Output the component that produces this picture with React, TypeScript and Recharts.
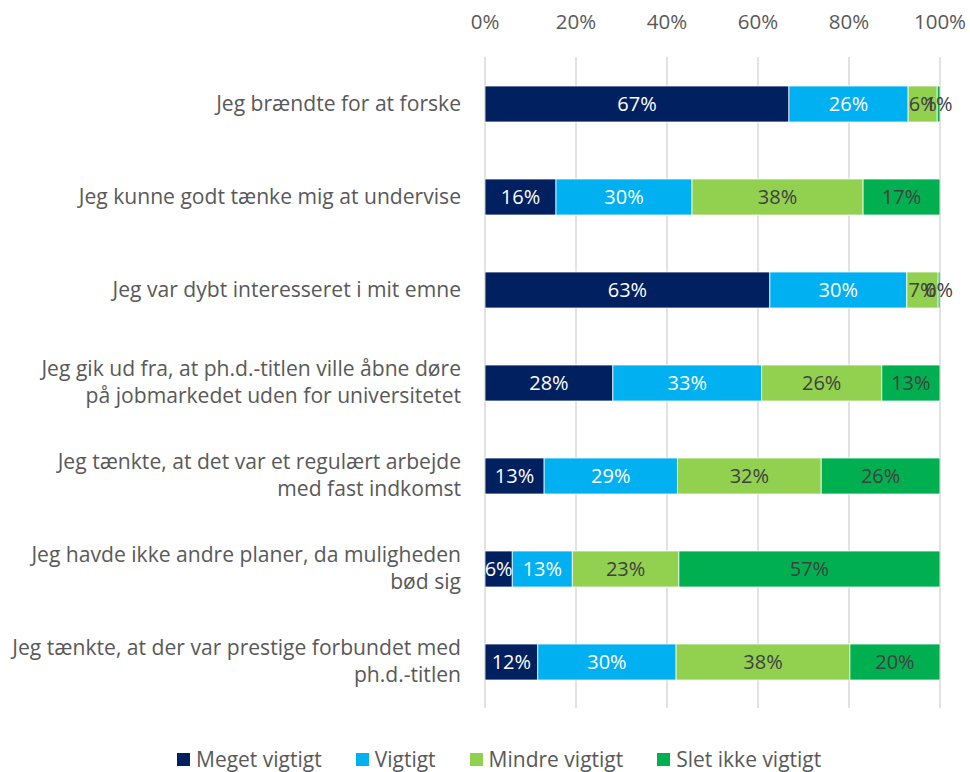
import React from 'react';
import { BarChart, Bar, XAxis, YAxis, CartesianGrid, LabelList, Legend } from 'recharts';

const categories: string[][] = [
  ['Jeg brændte for at forske'],
  ['Jeg kunne godt tænke mig at undervise'],
  ['Jeg var dybt interesseret i mit emne'],
  ['Jeg gik ud fra, at ph.d.-titlen ville åbne døre', 'på jobmarkedet uden for universitetet'],
  ['Jeg tænkte, at det var et regulært arbejde', 'med fast indkomst'],
  ['Jeg havde ikke andre planer, da muligheden', 'bød sig'],
  ['Jeg tænkte, at der var prestige forbundet med', 'ph.d.-titlen'],
];

const meget = [66.8, 15.6, 62.6, 28.1, 13.0, 6.0, 11.6];
const vigtigt = [26.2, 29.9, 30.1, 32.7, 29.3, 13.2, 30.4];
const mindre = [6.4, 37.6, 6.9, 26.4, 31.6, 23.4, 38.2];
const slet = [0.6, 16.9, 0.4, 12.8, 26.1, 57.4, 19.8];

const xTicks = [0, 20, 40, 60, 80, 100];

const seriesNames = ['Meget vigtigt', 'Vigtigt', 'Mindre vigtigt', 'Slet ikke vigtigt'];
const colors = ['#002060', '#00B0F0', '#92D050', '#00B050'];
const labelColors = ['#FFFFFF', '#FFFFFF', '#404040', '#404040'];

const data = categories.map((c, i) => ({
  name: c.join('\n'),
  meget: meget[i],
  vigtigt: vigtigt[i],
  mindre: mindre[i],
  slet: slet[i],
}));

const keys = ['meget', 'vigtigt', 'mindre', 'slet'];

const FONT = '"Open Sans", Lato, sans-serif';

const CategoryTick = (props: any) => {
  const { x, y, payload } = props;
  const lines: string[] = String(payload.value).split('\n');
  const lh = 27;
  const startY = y - ((lines.length - 1) * lh) / 2;
  return (
    <text x={x - 16} y={startY} textAnchor="end" fill="#595959" fontSize={21.1} fontFamily={FONT}>
      {lines.map((l, i) => (
        <tspan key={i} x={x - 16} y={startY + i * lh} dy="0.35em">
          {l}
        </tspan>
      ))}
    </text>
  );
};

const LegendContent = () => (
  <div style={{ display: 'flex', justifyContent: 'flex-start', paddingLeft: 177, fontFamily: FONT, fontSize: 21, color: '#595959', lineHeight: '26px' }}>
    {seriesNames.map((n, i) => (
      <div key={n} style={{ display: 'flex', alignItems: 'center', marginRight: i < 3 ? 34 : 0 }}>
        <span style={{ width: 13, height: 13, background: colors[i], display: 'inline-block', marginRight: 6 }} />
        <span>{n}</span>
      </div>
    ))}
  </div>
);

export default function App() {
  return (
    <div style={{ position: 'absolute', left: 0, top: 0, background: '#fff' }}>
      <BarChart
        width={970}
        height={772}
        data={data}
        layout="vertical"
        margin={{ top: 27, right: 30, bottom: 38, left: 0 }}
      >
        <CartesianGrid horizontal={false} vertical stroke="#D9D9D9" strokeWidth={1.5} />
        <XAxis
          type="number"
          orientation="top"
          domain={[0, 100]}
          ticks={xTicks}
          tickFormatter={(v: number) => `${v}%`}
          axisLine={false}
          tickLine={false}
          tickMargin={22}
          height={30}
          tick={{ fill: '#595959', fontSize: 20.5, fontFamily: FONT }}
          allowDataOverflow
        />
        <YAxis
          type="category"
          dataKey="name"
          width={485}
          axisLine={false}
          tickLine={false}
          tick={<CategoryTick />}
          interval={0}
        />
        <Legend
          content={<LegendContent />}
          wrapperStyle={{ position: 'absolute', top: 746, left: 0, width: 970 }}
        />
        {keys.map((k, i) => (
          <Bar
            key={k}
            dataKey={k}
            name={seriesNames[i]}
            stackId="a"
            fill={colors[i]}
            barSize={36}
            stroke="#FFFFFF"
            strokeWidth={0.75}
            isAnimationActive={false}
          >
            <LabelList
              dataKey={k}
              position="center"
              fill={labelColors[i]}
              fontSize={20}
              fontFamily={FONT}
              formatter={(v: any) => `${Math.round(Number(v))}%`}
            />
          </Bar>
        ))}
      </BarChart>
    </div>
  );
}
